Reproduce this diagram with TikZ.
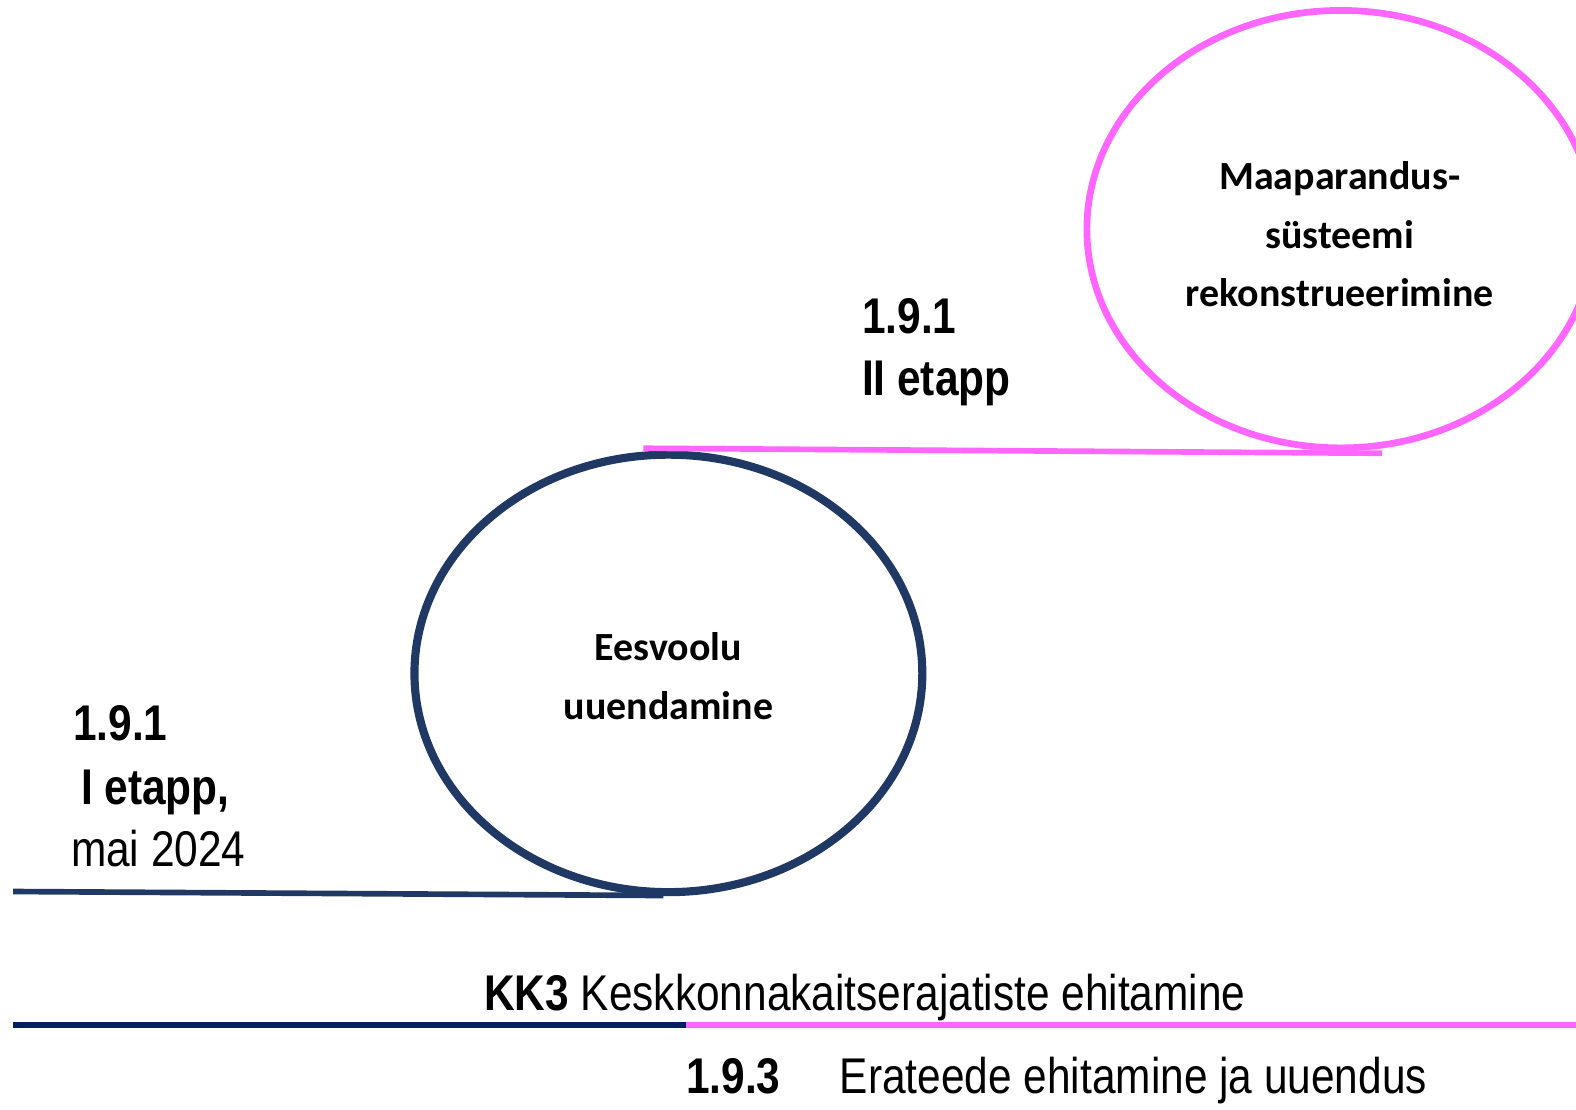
\documentclass[tikz,border=0pt]{standalone}
\usepackage{fontspec}
\setmainfont{Carlito}
\newfontfamily\condfont{Liberation Sans}[FakeStretch=0.845]
\usetikzlibrary{shapes.geometric}

\definecolor{navyline}{RGB}{31,56,100}
\definecolor{darknavy}{RGB}{0,32,96}
\definecolor{pinkline}{RGB}{255,102,255}

\begin{document}
\begin{tikzpicture}[x=0.01cm,y=-0.01cm]
      \tikzset{
        stage/.style={draw,ellipse,line width=2.3pt,minimum width=5.05cm,minimum height=4.35cm},
        stage text/.style={align=center,inner sep=0pt,font=\bfseries\fontsize{11.3}{16.6}\selectfont},
        bold label/.style={anchor=base west,inner sep=0pt,font=\condfont\bfseries\fontsize{14.2}{17}\selectfont},
        plain label/.style={anchor=base west,inner sep=0pt,font=\condfont\fontsize{14.2}{17}\selectfont}
      }
      \useasboundingbox (0,0) rectangle (1568,1104);
      % stages
      \node [stage,draw=pinkline,line width=1.9pt] (drain) at (1334,228) {};
      \node [stage text] (draintext) at (1333,233) {Maaparandus-\\s\"usteemi\\rekonstrueerimine};
      \node [stage,draw=navyline] (ditch) at (665,670) {};
      \node [stage text] (ditchtext) at (665,673) {Eesvoolu\\uuendamine};
      % base lines under the stages
      \coordinate (bluestart) at (13,887);
      \coordinate (blueend) at (660,891);
      \coordinate (pinkstart) at (640,446);
      \coordinate (pinkend) at (1375,451);
      \draw [navyline,line width=1.6pt] (bluestart) -- (blueend);
      \draw [pinkline,line width=1.6pt] (pinkstart) -- (pinkend);
      % stage labels
      \node [bold label] (first) at (72,737) {1.9.1};
      \node [bold label] (firstname) at (80,800) {I etapp,};
      \node [plain label] (firstdate) at (70,862) {mai 2024};
      \node [bold label] (second) at (857,332) {1.9.1};
      \node [bold label] (secondname) at (857,394) {II etapp};
      % timeline
      \coordinate (lineleft) at (13,1020);
      \coordinate (linemid) at (683,1020);
      \coordinate (lineright) at (1568,1020);
      \draw [darknavy,line width=1.7pt] (lineleft) -- (linemid);
      \draw [pinkline,line width=1.7pt] (linemid) -- (lineright);
      \node [plain label] (kk) at (481,1005) {\textbf{KK3} Keskkonnakaitserajatiste ehitamine};
      \node [bold label] (roadsnum) at (682,1088) {1.9.3};
      \node [plain label] (roads) at (835,1088) {Erateede ehitamine ja uuendus};
\end{tikzpicture}
\end{document}
